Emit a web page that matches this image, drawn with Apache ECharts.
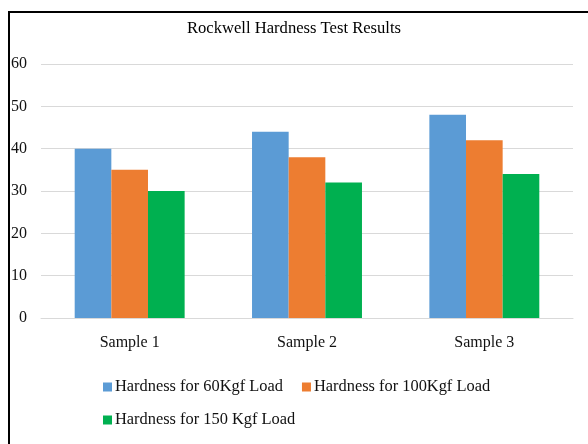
<!DOCTYPE html>
<html><head><meta charset="utf-8">
<script src="https://cdn.jsdelivr.net/npm/echarts@6/dist/echarts.min.js"></script>
<style>html,body{margin:0;padding:0;background:#fff}#c{width:588px;height:444px}</style>
</head><body><div id="c"></div>
<script>
const categories = ['Sample 1', 'Sample 2', 'Sample 3'];
const seriesNames = ['Hardness for 60Kgf Load', 'Hardness for 100Kgf Load', 'Hardness for 150 Kgf Load'];
const load60 = [40, 44, 48];
const load100 = [35, 38, 42];
const load150 = [30, 32, 34];
const colors = ['#5B9BD5', '#ED7D31', '#00B050'];
const font = 'Liberation Serif';

const chart = echarts.init(document.getElementById('c'));
const txt = { fontFamily: font, fontSize: 16, color: '#111' };
const legTxt = { fontFamily: font, fontSize: 16.4, color: '#111', padding: [0, 0, 0, -2] };
chart.setOption({
  animation: false,
  textStyle: { fontFamily: font },
  graphic: [{ type: 'rect', shape: { x: 9, y: 12, width: 800, height: 600 }, style: { fill: 'none', stroke: '#000', lineWidth: 2 }, silent: true }],
  title: { text: 'Rockwell Hardness Test Results', left: 'center', top: 15, textStyle: { fontFamily: font, fontSize: 16.6, fontWeight: 'normal', color: '#000' } },
  legend: [
    { data: [seriesNames[0], seriesNames[1]], left: 103, top: 379, padding: 0, itemWidth: 9, itemHeight: 9, itemGap: 19, icon: 'rect', textStyle: legTxt },
    { data: [seriesNames[2]], left: 103, top: 412, padding: 0, itemWidth: 9, itemHeight: 9, icon: 'rect', textStyle: legTxt }
  ],
  grid: { left: 41, right: 15, top: 64, bottom: 126, containLabel: false },
  xAxis: {
    type: 'category', data: categories,
    axisLine: { lineStyle: { color: '#D9D9D9', width: 1 } },
    axisTick: { show: false },
    axisLabel: Object.assign({ margin: 17 }, txt)
  },
  yAxis: {
    type: 'value', min: 0, max: 60, interval: 10,
    axisLine: { show: false }, axisTick: { show: false },
    splitLine: { lineStyle: { color: '#D9D9D9', width: 1 } },
    axisLabel: Object.assign({ margin: 14 }, txt)
  },
  series: [
    { name: seriesNames[0], type: 'bar', data: load60, itemStyle: { color: colors[0] }, barGap: '0%', barCategoryGap: '38%' },
    { name: seriesNames[1], type: 'bar', data: load100, itemStyle: { color: colors[1] }, barGap: '0%', barCategoryGap: '38%' },
    { name: seriesNames[2], type: 'bar', data: load150, itemStyle: { color: colors[2] }, barGap: '0%', barCategoryGap: '38%' }
  ]
});
</script></body></html>
